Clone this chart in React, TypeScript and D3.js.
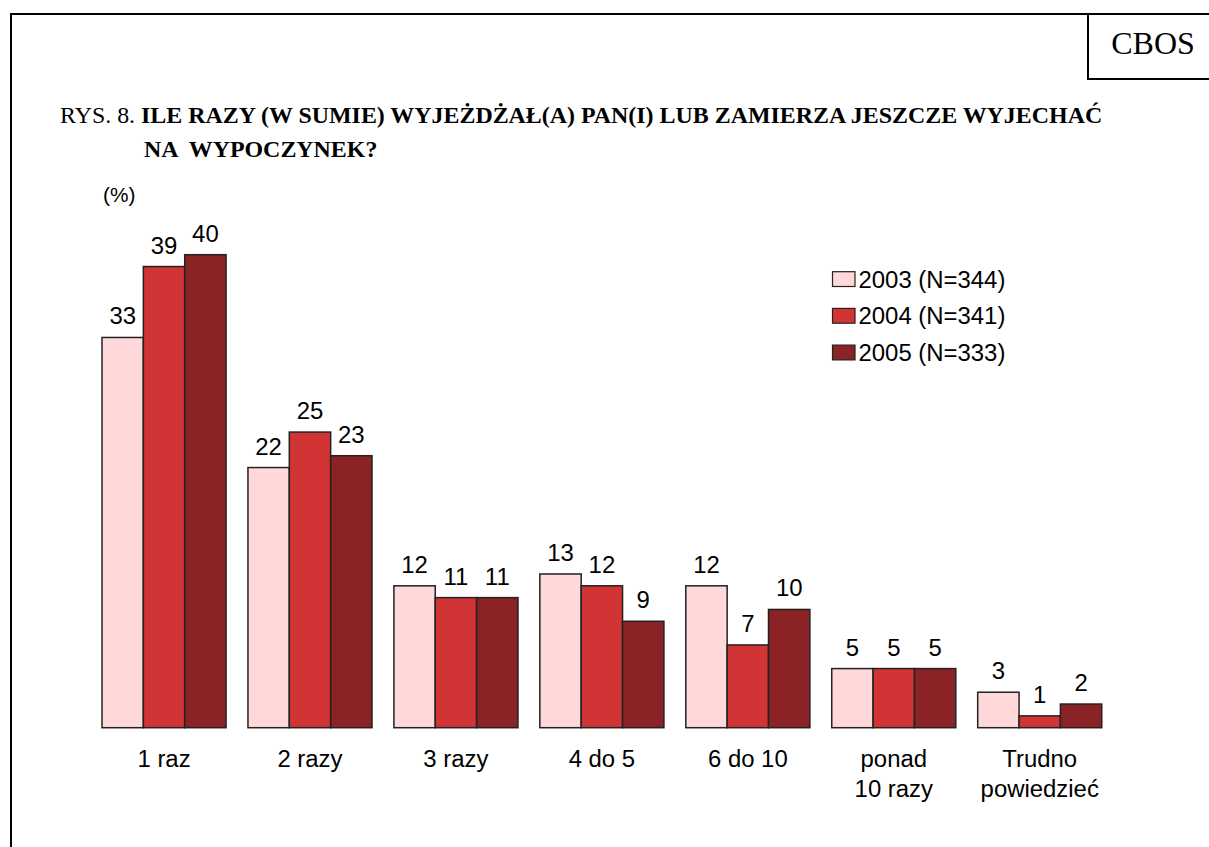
import * as d3 from "d3";

const categories = [
  ["1 raz"],
  ["2 razy"],
  ["3 razy"],
  ["4 do 5"],
  ["6 do 10"],
  ["ponad", "10 razy"],
  ["Trudno", "powiedzieć"],
];
const seriesNames = ["2003 (N=344)", "2004 (N=341)", "2005 (N=333)"];
const values2003 = [33, 22, 12, 13, 12, 5, 3];
const values2004 = [39, 25, 11, 12, 7, 5, 1];
const values2005 = [40, 23, 11, 9, 10, 5, 2];
const colors = ["#ffd8da", "#d13435", "#8b2225"];

const W = 1209;
const H = 847;
const SX = 1.04; // glyphs in the reference are a bit wider than tall
const SANS = "'Liberation Sans', Arial, sans-serif";
const SERIF = "'Liberation Serif', 'Times New Roman', serif";

const Txt = ({ x, y, size, anchor = "start", family = SANS, children }: any) => (
  <text
    transform={`translate(${x},${y}) scale(${SX},1)`}
    fontSize={size}
    fontFamily={family}
    textAnchor={anchor}
    fill="#000"
    style={{ whiteSpace: "pre" }}
  >
    {children}
  </text>
);

export default function App() {
  const series = [values2003, values2004, values2005];
  const baseY = 727.7;

  const step = 145.95;
  const x0 = 102 - 0.075 * step;
  const x = d3
    .scaleBand<number>()
    .domain(d3.range(categories.length))
    .range([x0, x0 + categories.length * step])
    .paddingInner(0.15)
    .paddingOuter(0.075);
  const xs = d3
    .scaleBand<number>()
    .domain(d3.range(series.length))
    .range([0, x.bandwidth()]);
  const y = d3.scaleLinear().domain([0, 40]).range([baseY, 254.7]);

  return (
    <svg
      width={W}
      height={H}
      style={{ position: "absolute", left: 0, top: 0, background: "#fff" }}
    >
      {/* frame */}
      <line x1={11} y1={14} x2={W} y2={14} stroke="#000" strokeWidth={2} />
      <line x1={11} y1={13} x2={11} y2={H} stroke="#000" strokeWidth={2} />
      <line x1={1088} y1={14} x2={1088} y2={79} stroke="#000" strokeWidth={2} />
      <line x1={1087} y1={79} x2={W} y2={79} stroke="#000" strokeWidth={2} />
      <text x={1153} y={54} fontSize={32} fontFamily={SERIF} textAnchor="middle">
        CBOS
      </text>

      {/* title */}
      <Txt x={60} y={123} size={23} family={SERIF}>
        <tspan>RYS. 8. </tspan>
        <tspan fontWeight="bold">
          ILE RAZY (W SUMIE) WYJEŻDŻAŁ(A) PAN(I) LUB ZAMIERZA JESZCZE WYJECHAĆ
        </tspan>
      </Txt>
      <Txt x={144} y={156.5} size={23} family={SERIF}>
        <tspan fontWeight="bold">NA  WYPOCZYNEK?</tspan>
      </Txt>

      <Txt x={103} y={202} size={20}>
        (%)
      </Txt>

      {/* bars */}
      {categories.map((cat, i) => (
        <g key={i} transform={`translate(${x(i)},0)`}>
          {series.map((vals, s) => (
            <rect
              key={s}
              x={xs(s)}
              y={y(vals[i])}
              width={xs.bandwidth()}
              height={baseY - y(vals[i])}
              fill={colors[s]}
              stroke="#222"
              strokeWidth={1.5}
            />
          ))}
          {series.map((vals, s) => (
            <Txt
              key={"v" + s}
              x={(xs(s) ?? 0) + xs.bandwidth() / 2}
              y={y(vals[i]) - 13}
              size={23}
              anchor="middle"
            >
              {String(vals[i])}
            </Txt>
          ))}
          {cat.map((line, li) => (
            <Txt
              key={"c" + li}
              x={x.bandwidth() / 2}
              y={767 + li * 30}
              size={23}
              anchor="middle"
            >
              {line}
            </Txt>
          ))}
        </g>
      ))}

      {/* legend */}
      {seriesNames.map((name, s) => {
        const ly = 287.5 + s * 36.7;
        return (
          <g key={name}>
            <rect
              x={832.5}
              y={ly - 15.8}
              width={22.5}
              height={14.8}
              fill={colors[s]}
              stroke="#222"
              strokeWidth={1.2}
            />
            <Txt x={858.5} y={ly} size={23}>
              {name}
            </Txt>
          </g>
        );
      })}
    </svg>
  );
}
